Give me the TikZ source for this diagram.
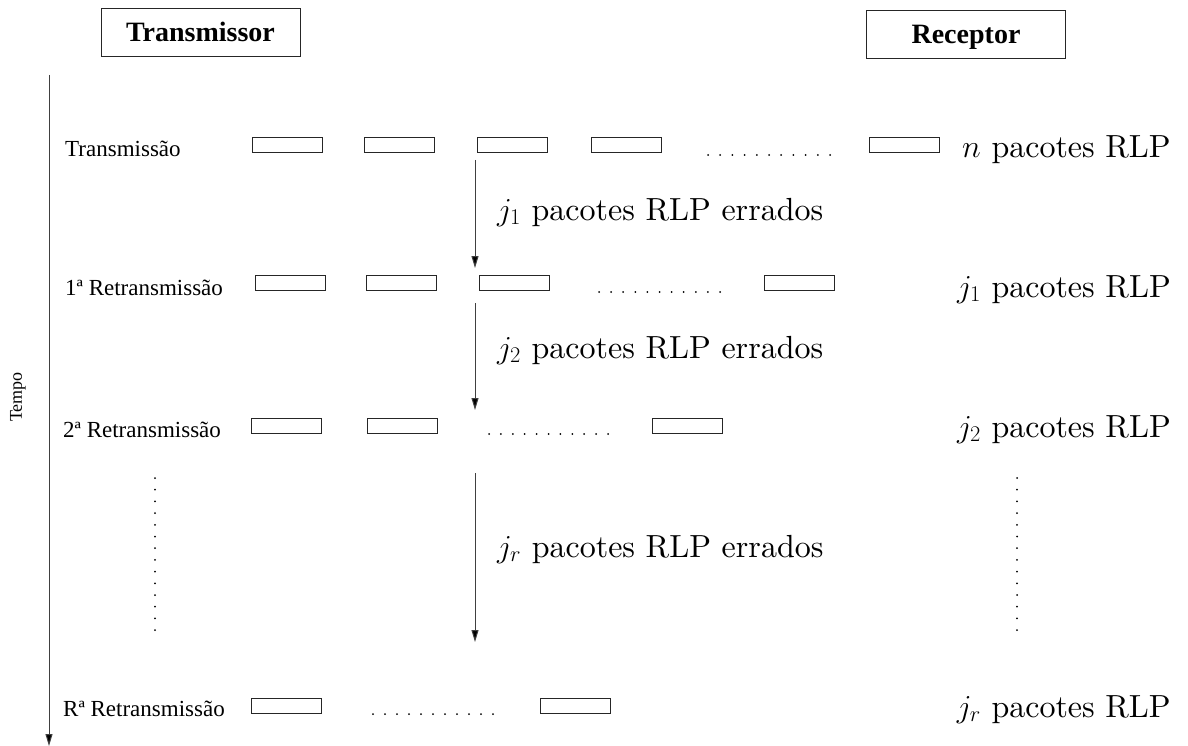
\RequirePackage{fix-cm}
\documentclass[tikz,border=0pt]{standalone}
\usepackage{fontspec}
\newfontfamily\tnr{Liberation Serif}
\newfontfamily\cmten{lmroman10-regular}[Extension=.otf]
\usetikzlibrary{arrows.meta}
\begin{document}
\begin{tikzpicture}[x=1pt,y=-1pt,
  pkt/.style={draw=black!85, line width=0.9pt, minimum width=70pt, minimum height=15pt, inner sep=0pt, anchor=north west},
  lbl/.style={font=\tnr\fontsize{23}{26}\selectfont, anchor=base west, inner sep=0pt},
  hdr/.style={draw=black!85, line width=0.9pt, minimum width=199pt, minimum height=48pt, inner sep=0pt, text height=19pt, text depth=0pt, font=\tnr\bfseries\fontsize{28}{32}\selectfont},
  bigr/.style={font=\cmten\fontsize{32}{38}\selectfont, anchor=base east, inner sep=0pt},
  bigl/.style={font=\cmten\fontsize{32}{38}\selectfont, anchor=base west, inner sep=0pt},
  arr/.style={draw=black!75, line width=1pt, -{Triangle[length=12pt,width=7pt,fill=black]}},
  tmp/.style={font=\tnr\fontsize{18}{20}\selectfont, rotate=90, inner sep=0pt},
  dot/.style={fill=black, draw=none}
]
\useasboundingbox (0,0) rectangle (1188,746);

% headers
\node[hdr] (tx) at (200.5,32) {Transmissor};
\node[hdr] (rx) at (966,34) {Receptor};

% time axis
\coordinate (t0) at (49,75);
\coordinate (t1) at (49,746);
\draw[arr] (t0) -- (t1);
\node[tmp] (tempo) at (18,397) {Tempo};

% row 0
\node[lbl] (l0) at (65,157) {Transmissão};
\node[pkt] (p01) at (252,137) {};
\node[pkt] (p02) at (364,137) {};
\node[pkt] (p03) at (477,137) {};
\node[pkt] (p04) at (591,137) {};
\node[pkt] (p05) at (869,137) {};
\foreach \i in {0,...,10} \fill[dot] (708+12.2*\i,155) circle (1pt);
\node[bigr] (r0) at (1171,158) {$n$ pacotes RLP};

% arrow 1
\coordinate (a1s) at (475,160);
\coordinate (a1e) at (475,268);
\draw[arr] (a1s) -- (a1e);
\node[bigl] (e1) at (497,220) {$j_1$ pacotes RLP errados};

% row 1
\node[lbl] (l1) at (65,295) {1ª Retransmissão};
\node[pkt] (p11) at (255,275) {};
\node[pkt] (p12) at (366,275) {};
\node[pkt] (p13) at (479,275) {};
\node[pkt] (p14) at (764,275) {};
\foreach \i in {0,...,10} \fill[dot] (599+12.1*\i,292) circle (1pt);
\node[bigr] (r1) at (1171,297) {$j_1$ pacotes RLP};

% arrow 2
\coordinate (a2s) at (475,303);
\coordinate (a2e) at (475,410);
\draw[arr] (a2s) -- (a2e);
\node[bigl] (e2) at (497,358) {$j_2$ pacotes RLP errados};

% row 2
\node[lbl] (l2) at (63,437) {2ª Retransmissão};
\node[pkt] (p21) at (251,418) {};
\node[pkt] (p22) at (367,418) {};
\node[pkt] (p23) at (652,418) {};
\foreach \i in {0,...,10} \fill[dot] (489+11.9*\i,434) circle (1pt);
\node[bigr] (r2) at (1171,437) {$j_2$ pacotes RLP};

% vertical dots
\foreach \i in {0,...,13} \fill[dot] (155,478+11.7*\i) circle (1pt);
\foreach \i in {0,...,13} \fill[dot] (1017,478+11.7*\i) circle (1pt);

% arrow 3
\coordinate (a3s) at (475,473);
\coordinate (a3e) at (475,642);
\draw[arr] (a3s) -- (a3e);
\node[bigl] (e3) at (497,557) {$j_r$ pacotes RLP errados};

% row 3
\node[lbl] (l3) at (63,716) {Rª Retransmissão};
\node[pkt] (p31) at (251,698) {};
\node[pkt] (p32) at (540,698) {};
\foreach \i in {0,...,10} \fill[dot] (373+12*\i,714) circle (1pt);
\node[bigr] (r3) at (1171,717) {$j_r$ pacotes RLP};
\end{tikzpicture}
\end{document}
